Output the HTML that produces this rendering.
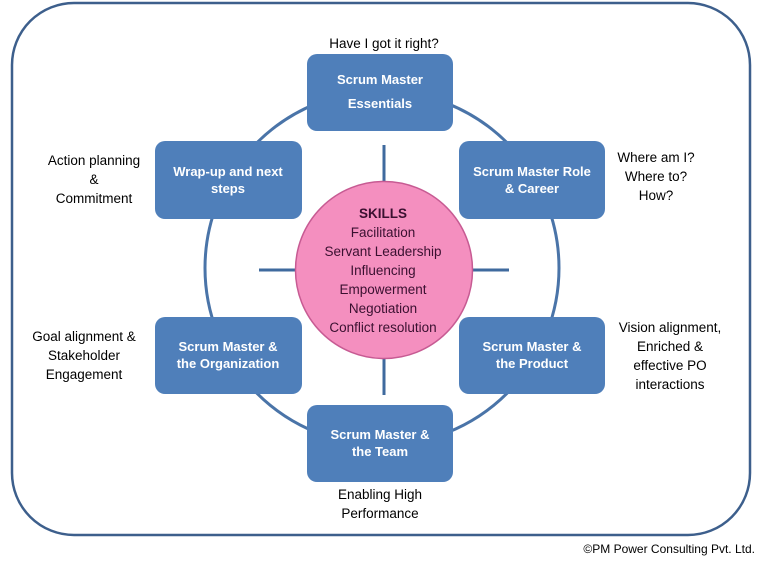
<!DOCTYPE html>
<html><head><style>
body{margin:0;background:#fff;}
svg text{font-family:"Liberation Sans",sans-serif;}
</style></head><body>
<svg width="763" height="563" viewBox="0 0 763 563" xmlns="http://www.w3.org/2000/svg">
<rect x="12" y="3" width="738" height="532" rx="62" fill="#fff" stroke="#3d5f8c" stroke-width="2.5"/>
<circle cx="382" cy="268" r="177" fill="none" stroke="#4a74a8" stroke-width="3"/>
<g stroke="#3f6a9e" stroke-width="3">
<line x1="384" y1="145" x2="384" y2="182"/>
<line x1="384" y1="358" x2="384" y2="395"/>
<line x1="259" y1="270" x2="295" y2="270"/>
<line x1="473" y1="270" x2="509" y2="270"/>
</g>
<circle cx="384" cy="270" r="88.5" fill="#f48fbf" stroke="#c75b93" stroke-width="1.5"/>
<g fill="#4f7fba">
<rect x="307" y="54" width="146" height="77" rx="10"/>
<rect x="155" y="141" width="147" height="78" rx="10"/>
<rect x="459" y="141" width="146" height="78" rx="10"/>
<rect x="155" y="317" width="147" height="77" rx="10"/>
<rect x="459" y="317" width="146" height="77" rx="10"/>
<rect x="307" y="405" width="146" height="77" rx="10"/>
</g>
<g fill="#fff" font-weight="bold" font-size="13" text-anchor="middle">
<text x="380" y="84">Scrum Master</text>
<text x="380" y="108">Essentials</text>
<text x="228" y="176">Wrap-up and next</text>
<text x="228" y="193">steps</text>
<text x="532" y="176">Scrum Master Role</text>
<text x="532" y="193">&amp; Career</text>
<text x="228" y="351">Scrum Master &amp;</text>
<text x="228" y="368">the Organization</text>
<text x="532" y="351">Scrum Master &amp;</text>
<text x="532" y="368">the Product</text>
<text x="380" y="439">Scrum Master &amp;</text>
<text x="380" y="456">the Team</text>
</g>
<g fill="#3a1030" font-size="13.5" text-anchor="middle">
<text x="383" y="218" font-weight="bold">SKILLS</text>
<text x="383" y="237">Facilitation</text>
<text x="383" y="256">Servant  Leadership</text>
<text x="383" y="275">Influencing</text>
<text x="383" y="294">Empowerment</text>
<text x="383" y="313">Negotiation</text>
<text x="383" y="332">Conflict resolution</text>
</g>
<g fill="#000" font-size="13.5" text-anchor="middle">
<text x="384" y="48">Have I got it right?</text>
<text x="94" y="165">Action planning</text>
<text x="94" y="184">&amp;</text>
<text x="94" y="203">Commitment</text>
<text x="656" y="162">Where am I?</text>
<text x="656" y="181">Where to?</text>
<text x="656" y="200">How?</text>
<text x="84" y="341">Goal alignment &amp;</text>
<text x="84" y="360">Stakeholder</text>
<text x="84" y="379">Engagement</text>
<text x="670" y="332">Vision alignment,</text>
<text x="670" y="351">Enriched &amp;</text>
<text x="670" y="370">effective PO</text>
<text x="670" y="389">interactions</text>
<text x="380" y="499">Enabling High</text>
<text x="380" y="518">Performance</text>
</g>
<text x="755" y="553" font-size="12" text-anchor="end" fill="#000">©PM Power Consulting Pvt. Ltd.</text>
</svg>
</body></html>
